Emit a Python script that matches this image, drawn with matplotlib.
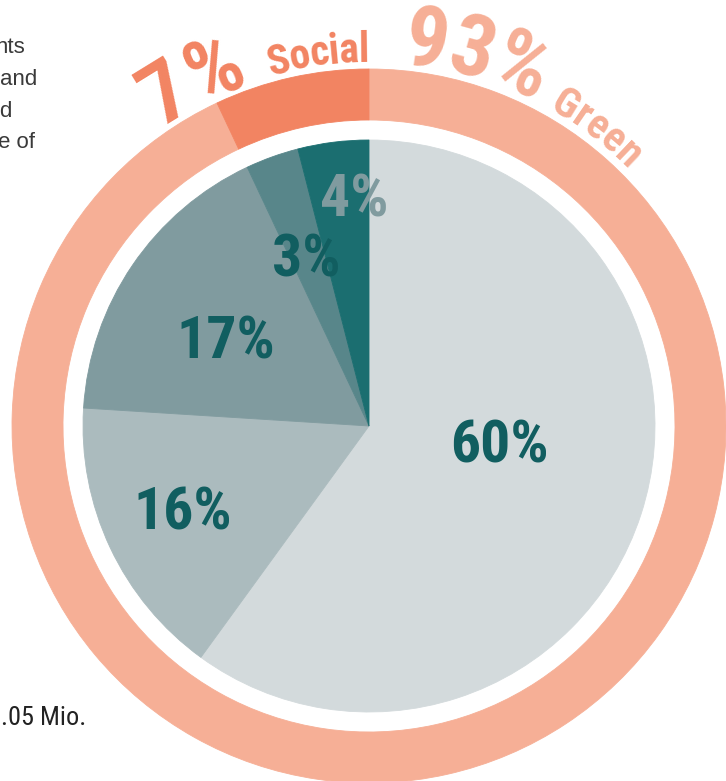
import numpy as np
import matplotlib.pyplot as plt
from matplotlib.font_manager import FontProperties
from matplotlib.textpath import text_to_path

# inner pie: share by category
inner_labels = ['60%', '16%', '17%', '3%', '4%']
inner_values = [60, 16, 17, 3, 4]
inner_colors = ['#d3dadc', '#abbbbe', '#809b9f', '#58868a', '#1b6e70']
label_colors = ['#115e60', '#115e60', '#115e60', '#115e60', '#809b9f']

# outer ring: green vs social
outer_values = [93, 7]
outer_colors = ['#f6af96', '#f28462']
outer_pct = ['93%', '7%']
outer_names = ['Green', 'Social']

# clipped side texts
side_lines = ['nts', 'and', 'd', 'e of']
foot_text = '.05 Mio.'

COND = ['Roboto Condensed', 'DejaVu Sans']
W, H = 726, 781
CX, CY = 369, H - 426
R_PIE = 286
R_OUT, R_IN = 357, 306

fig = plt.figure(figsize=(W / 100, H / 100), dpi=100)
ax = fig.add_axes([0, 0, 1, 1])

w1, _ = ax.pie(inner_values, radius=R_PIE, center=(CX, CY), startangle=90,
               counterclock=False, colors=inner_colors)
w2, _ = ax.pie(outer_values, radius=R_OUT, center=(CX, CY), startangle=90,
               counterclock=False, colors=outer_colors,
               wedgeprops=dict(width=R_OUT - R_IN))
for w in w1 + w2:
    w.set_edgecolor(w.get_facecolor())
    w.set_linewidth(0.6)

ax.set_xlim(0, W)
ax.set_ylim(0, H)
ax.set_aspect('equal')
ax.axis('off')

# inner labels (angle offset from slice middle, radius fraction)
lab_adj = [(-9, 0.46), (0, 0.72), (-4, 0.58), (-1, 0.62), (3.5, 0.79)]
cum = np.cumsum([0] + inner_values)
for i, lab in enumerate(inner_labels):
    mid = (cum[i] + cum[i + 1]) / 2 / sum(inner_values) * 360 + lab_adj[i][0]
    r = R_PIE * lab_adj[i][1]
    t = np.radians(mid)
    ax.text(CX + r * np.sin(t), CY + r * np.cos(t), lab, ha='center', va='center',
            fontsize=43, fontweight='bold', family=COND, color=label_colors[i])


def arc_text(s, first_angle, size, color, r=364, track=0.0):
    prop = FontProperties(family=COND, weight='bold', size=size)
    px = 100 / 72

    def width(t):
        return text_to_path.get_text_width_height_descent(t, prop, ismath=False)[0] * px

    w0 = width(s[0])
    for i, ch in enumerate(s):
        left = width(s[:i]) if i else 0
        off = left + width(ch) / 2 - w0 / 2 + track * i
        th = np.radians(first_angle) + off / r
        ax.text(CX + r * np.sin(th), CY + r * np.cos(th), ch, ha='center', va='baseline',
                rotation=-np.degrees(th), rotation_mode='anchor',
                fontproperties=prop, color=color)


arc_text(outer_pct[0], 8.5, 62, outer_colors[0])
arc_text(outer_names[0], 31.4, 30, outer_colors[0], track=0.5)
arc_text(outer_pct[1], -31.6, 62, outer_colors[1], track=3)
arc_text(outer_names[1], -14, 30, outer_colors[1], track=-0.5)

side_x = [25, 37, 12, 35]
side_y = [53, 85, 117, 148]
for s, x, y in zip(side_lines, side_x, side_y):
    ax.text(x, H - y, s, ha='right', va='baseline', fontsize=16,
            family='Liberation Sans', color='#3a3a3a')

ax.text(86, H - 725, foot_text, ha='right', va='baseline', fontsize=19,
        family=COND, color='#222222')

plt.savefig('out.png', dpi=100)
